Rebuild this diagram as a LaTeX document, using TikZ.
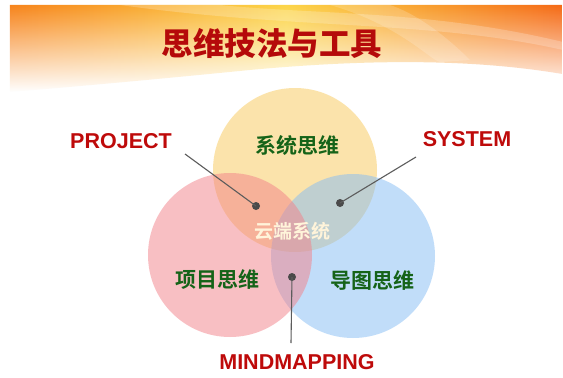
\documentclass[tikz,border=0pt]{standalone}
\usepackage{fontspec}
\setmainfont{Liberation Sans}
\newfontfamily\cjk{Noto Sans CJK SC}[BoldFont={Noto Sans CJK SC Bold}]
\newfontfamily\cjkblack{Noto Sans CJK SC Black}
\usetikzlibrary{fadings}
\definecolor{titlered}{HTML}{B50A0A}
\definecolor{labred}{HTML}{BE0A0A}
\definecolor{dgreen}{HTML}{156318}
\definecolor{cream}{HTML}{FFF4DA}
\definecolor{cyel}{HTML}{F9C959}
\definecolor{cpink}{HTML}{F38189}
\definecolor{cblue}{HTML}{85BDF5}
\definecolor{bandorange}{HTML}{F7841C}
\definecolor{bandyellow}{HTML}{FCD548}
\definecolor{bandright}{HTML}{F56A16}
\definecolor{dotgrey}{HTML}{4A4A4A}
\tikzfading[name=bandfade, top color=transparent!0, middle color=transparent!25, bottom color=transparent!100]
\tikzset{
  venn/.style={fill opacity=0.5},
  cjklab/.style={font=\cjk\bfseries\fontsize{21}{21}\selectfont, text=dgreen, inner sep=0pt},
  englab/.style={font=\bfseries\fontsize{21.5}{21.5}\selectfont, text=labred, inner sep=0pt},
  dotnode/.style={circle, fill=dotgrey, inner sep=0pt, minimum size=8pt},
  connector/.style={draw=dotgrey!90, line width=1.1pt}
}
\begin{document}
\begin{tikzpicture}[x=1pt,y=-1pt]
\useasboundingbox (0,0) rectangle (563,378);
\fill[white] (0,0) rectangle (563,378);
% banner
\shade[left color=bandorange, right color=bandright, middle color=bandyellow, path fading=bandfade]
  (10,5) -- (563,5) -- (563,74) .. controls (480,60) and (380,58) .. (250,70) .. controls (150,80) and (60,88) .. (10,92) -- cycle;
\fill[white, opacity=0.22] (120,5) .. controls (300,30) and (430,20) .. (563,50) -- (563,42) .. controls (430,10) and (320,15) .. (220,5) -- cycle;
\fill[white, opacity=0.18] (330,5) .. controls (400,25) and (430,60) .. (440,62) -- (470,60) .. controls (450,40) and (420,15) .. (390,5) -- cycle;
\node[font=\cjkblack\fontsize{31.5}{31.5}\selectfont, text=titlered, inner sep=0pt] (title) at (272,43) {思维技法与工具};
% circles: yellow bottom, blue, pink on top
\fill[cyel, venn] (295,170) circle (82);
\fill[cblue, venn] (353,256) circle (82);
\fill[cpink, venn] (230,255) circle (82);
\node[cjklab] (sys) at (297,145) {系统思维};
\node[cjklab] (proj) at (217,280) {项目思维};
\node[cjklab] (mind) at (372,280) {导图思维};
\node[cjklab, text=cream, font=\cjk\bfseries\fontsize{19}{19}\selectfont] (cloud) at (292,231) {云端系统};
% english labels
\node[englab] (PROJECT) at (121,141) {PROJECT};
\node[englab] (SYSTEM) at (467,139) {SYSTEM};
\node[englab] (MIND) at (297,362) {MINDMAPPING};
% dots and connectors
\node[dotnode] (d1) at (256,206) {};
\node[dotnode] (d2) at (340,203) {};
\node[dotnode] (d3) at (292,277) {};
\coordinate (c1) at (185,154);
\coordinate (c2) at (416,157);
\coordinate (c3) at (291,343);
\draw[connector] (c1) -- (d1.center);
\draw[connector] (c2) -- (d2.center);
\draw[connector] (d3.center) -- (c3);
\end{tikzpicture}
\end{document}
